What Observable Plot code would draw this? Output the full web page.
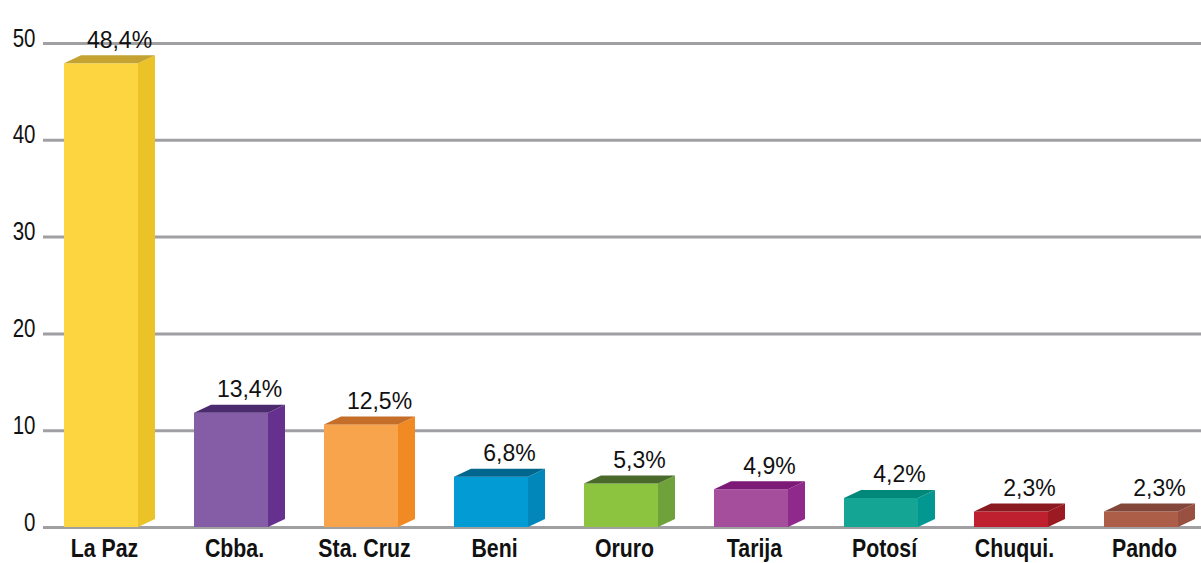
<!DOCTYPE html>
<html>
<head>
<meta charset="utf-8">
<script src="https://cdn.jsdelivr.net/npm/d3@7"></script>
<script src="https://cdn.jsdelivr.net/npm/@observablehq/plot@0.6"></script>
<style>
  html, body { margin: 0; padding: 0; background: #ffffff; }
  #chart svg { display: block; }
</style>
</head>
<body>
<div id="chart"></div>
<script>
// ---- data ----
const categories = ["La Paz", "Cbba.", "Sta. Cruz", "Beni", "Oruro", "Tarija", "Potosí", "Chuqui.", "Pando"];
const percentLabels = [48.4, 13.4, 12.5, 6.8, 5.3, 4.9, 4.2, 2.3, 2.3];
const barHeights = [47.9, 11.8, 10.6, 5.2, 4.5, 3.9, 3.0, 1.6, 1.6];
const frontColors = ["#FDD541", "#855CA6", "#F8A44D", "#039BD4", "#8DC43F", "#A54F9C", "#14A595", "#BE202F", "#AD5E48"];
const sideColors  = ["#EBC228", "#66308E", "#F28A23", "#0287BA", "#6FA23A", "#8F2A8C", "#029791", "#9C1B22", "#9A5040"];
const topColors   = ["#C4A332", "#4B2A6E", "#C56E2A", "#02678F", "#4A6A2C", "#7D1A78", "#00887A", "#8A1A20", "#83473A"];
const yTicks = [0, 10, 20, 30, 40, 50];

// ---- styles ----
const DEPTH_X = 17, DEPTH_Y = 8;
const FONT = "'Liberation Sans', Arial, Helvetica, sans-serif";
const CONDENSE = 0.82;

const rows = categories.map((name, i) => ({
  name, label: percentLabels[i], height: barHeights[i],
  front: frontColors[i], side: sideColors[i], top: topColors[i]
}));

function faces(index, scales) {
  const x = scales.x, y = scales.y;
  const bw = typeof x.bandwidth === "function" ? x.bandwidth() : x.bandwidth;
  const g = d3.create("svg:g");
  for (const d of rows) {
    const xl = x(d.name), xr = xl + bw, y0 = y(0), yt = y(d.height);
    g.append("path")
      .attr("d", `M${xr},${y0}L${xr + DEPTH_X},${y0 - DEPTH_Y}L${xr + DEPTH_X},${yt - DEPTH_Y}L${xr},${yt}Z`)
      .attr("fill", d.side);
    g.append("path")
      .attr("d", `M${xl},${yt}L${xr},${yt}L${xr + DEPTH_X},${yt - DEPTH_Y}L${xl + DEPTH_X},${yt - DEPTH_Y}Z`)
      .attr("fill", d.top);
  }
  return g.node();
}

const chart = Plot.plot({
  width: 1201,
  height: 563,
  marginTop: 43,
  marginBottom: 36,
  marginLeft: 43,
  marginRight: 0,
  style: { background: "#ffffff", overflow: "visible" },
  x: { domain: categories, range: [33.8, 1207.4], paddingInner: 0.433, paddingOuter: 0.2165, align: 0.5 },
  y: { domain: [0, 50] },
  color: { type: "identity" },
  marks: [
    Plot.ruleY(yTicks, { stroke: "#A0A0A3", strokeWidth: 3 }),
    Plot.axisY(yTicks, {
      tickSize: 0, tickPadding: 8, dy: -5,
      fontSize: 25, fontFamily: FONT, fill: "#111", label: null
    }),
    Plot.barY(rows, { x: "name", y: "height", fill: "front" }),
    faces,
    Plot.text(rows, {
      x: "name", y: "height",
      text: d => d.label.toFixed(1).replace(".", ",") + "%",
      dx: 18, dy: -16, lineAnchor: "bottom",
      fontSize: 23, fontFamily: FONT, fill: "#111"
    }),
    Plot.axisX({
      tickSize: 0, tickPadding: 11, dx: 3,
      fontSize: 26, fontWeight: "bold", fontFamily: FONT, fill: "#111", label: null
    })
  ]
});

// condense axis label glyphs horizontally (the reference uses a condensed face)
chart.querySelectorAll('g[aria-label="x-axis tick label"] text, g[aria-label="y-axis tick label"] text').forEach(el => {
  const t = el.getAttribute("transform") || "";
  const x = +el.getAttribute("x") || 0;
  el.setAttribute("transform", `${t} translate(${x},0) scale(${CONDENSE},1) translate(${-x},0)`);
});

document.getElementById("chart").appendChild(chart);
</script>
</body>
</html>
